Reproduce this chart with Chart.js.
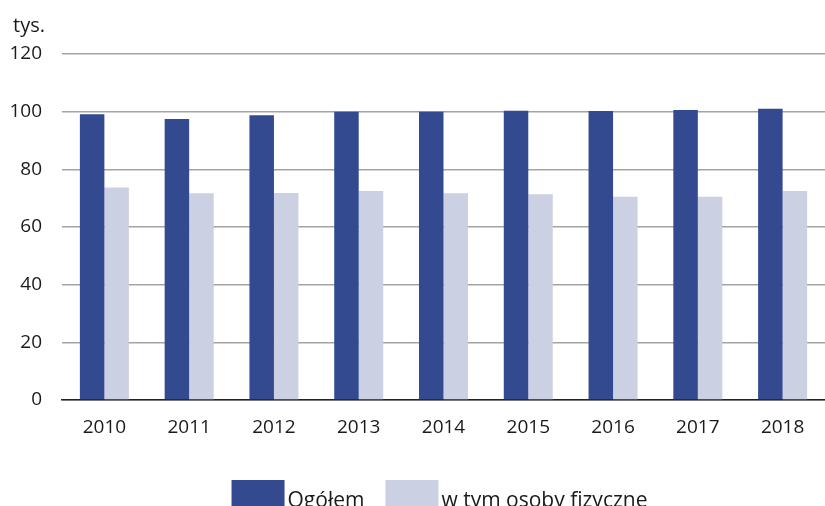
<!DOCTYPE html>
<html>
<head>
<meta charset="utf-8">
<script src="https://cdn.jsdelivr.net/npm/chart.js@4"></script>
<style>
html,body{margin:0;padding:0;background:#fff;}
#wrap{width:825px;height:506px;position:relative;}
</style>
</head>
<body>
<div id="wrap"><canvas id="c" width="825" height="506"></canvas></div>
<script>
const categories = ['2010','2011','2012','2013','2014','2015','2016','2017','2018'];
const ogolem = [99.1, 97.5, 98.8, 100.0, 100.0, 100.3, 100.2, 100.6, 101.0];
const osobyFizyczne = [73.7, 71.7, 71.8, 72.5, 71.7, 71.4, 70.5, 70.5, 72.5];
const seriesLabels = ['Ogółem', 'w tym osoby fizyczne'];
const unitLabel = 'tys.';
const yMin = 0, yMax = 120, yStep = 20;

const FONT = '"Open Sans", "Noto Sans", sans-serif';
const TEXT = '#1a1a1a';
const DARK = '#334a91';
const LIGHT = '#cbd0e3';

const extras = {
  id: 'extras',
  afterDraw(chart) {
    const ctx = chart.ctx;
    const ca = chart.chartArea;
    ctx.save();
    ctx.fillStyle = TEXT;
    ctx.font = '20px ' + FONT;
    ctx.textBaseline = 'alphabetic';
    ctx.textAlign = 'left';
    ctx.fillText(unitLabel, 13, 32);
    // legend
    ctx.font = '21px ' + FONT;
    const boxW = 53, boxH = 30, gap = 3, itemGap = 21;
    const items = chart.data.datasets.map(ds => ({label: ds.label, color: ds.backgroundColor, w: ctx.measureText(ds.label).width}));
    let total = 0;
    items.forEach((it, i) => { total += boxW + gap + it.w + (i < items.length - 1 ? itemGap : 0); });
    let x = (ca.left + ca.right) / 2 - total / 2 - 4;
    const boxTop = 480;
    items.forEach(it => {
      ctx.fillStyle = it.color;
      ctx.fillRect(x, boxTop, boxW, boxH);
      x += boxW + gap;
      ctx.fillStyle = TEXT;
      ctx.fillText(it.label, x, 507);
      x += it.w + itemGap;
    });
    ctx.restore();
  }
};

new Chart(document.getElementById('c'), {
  type: 'bar',
  data: {
    labels: categories,
    datasets: [
      {label: seriesLabels[0], data: ogolem, backgroundColor: DARK, borderWidth: 0},
      {label: seriesLabels[1], data: osobyFizyczne, backgroundColor: LIGHT, borderWidth: 0}
    ]
  },
  options: {
    responsive: false,
    animation: false,
    devicePixelRatio: 1,
    categoryPercentage: 0.578,
    barPercentage: 1.0,
    layout: {padding: {top: 54, bottom: 56, left: 0, right: 0}},
    plugins: {legend: {display: false}, tooltip: {enabled: false}, title: {display: false}},
    scales: {
      x: {
        grid: {display: false, drawTicks: false},
        border: {display: true, color: '#222222', width: 1.5},
        ticks: {font: {family: FONT, size: 19}, color: TEXT, padding: 16, maxRotation: 0},
        afterFit(scale) { scale.height = 50; }
      },
      y: {
        min: yMin, max: yMax,
        grid: {color: '#a3a3a3', lineWidth: 1.5, drawTicks: false},
        border: {display: false},
        ticks: {stepSize: yStep, font: {family: FONT, size: 19}, color: TEXT, padding: 20},
        afterFit(scale) { scale.width = 62; }
      }
    }
  },
  plugins: [extras]
});
</script>
</body>
</html>
